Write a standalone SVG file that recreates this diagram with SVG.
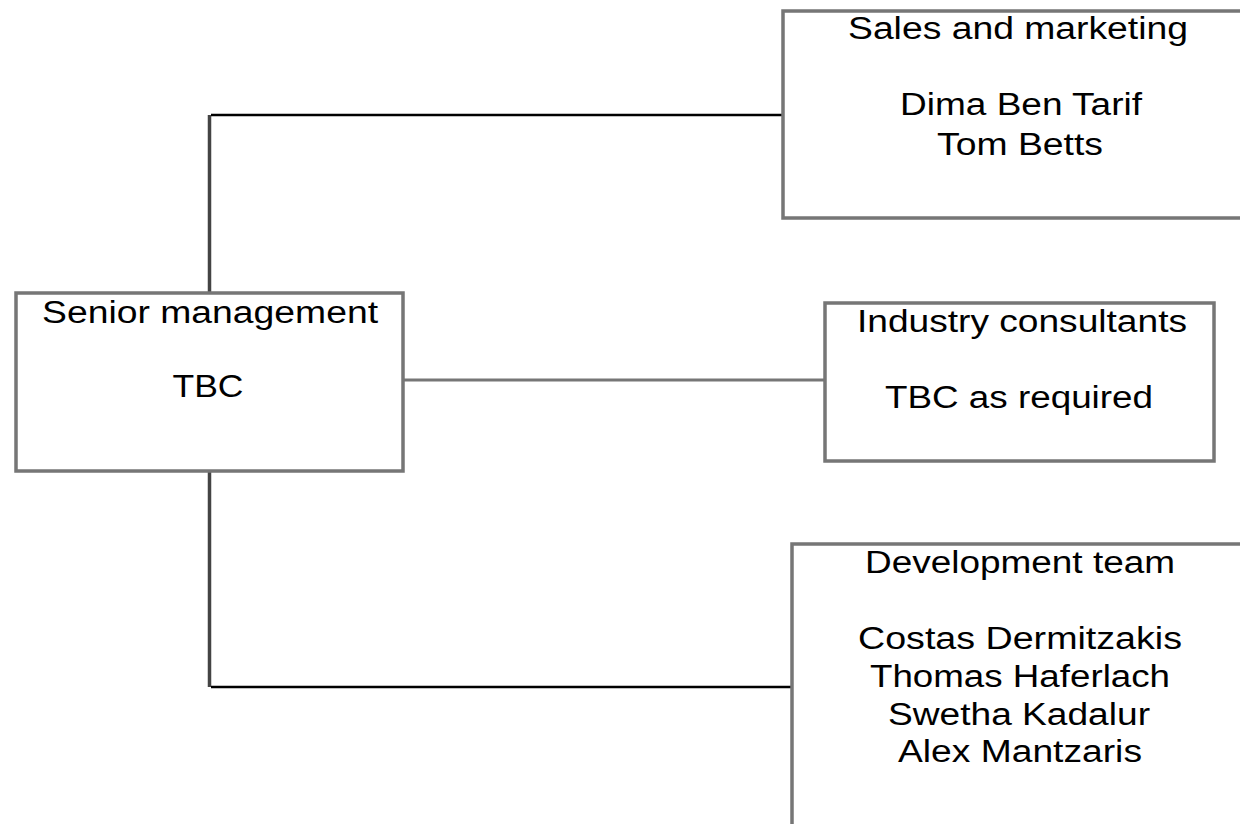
<svg xmlns="http://www.w3.org/2000/svg" width="1240" height="824" viewBox="0 0 1240 824">
<style>
.box{fill:#fff;stroke:#767676;stroke-width:3.5}
.t{font-family:"Liberation Sans",Arial,sans-serif;font-size:31px;fill:#000;text-anchor:middle}
.c{fill:none;stroke:#000;stroke-width:2.5}
.cv{fill:none;stroke:#444;stroke-width:3.5}
.cg{fill:none;stroke:#767676;stroke-width:3}
</style>
<rect width="1240" height="824" fill="#fff"/>
<g id="connectors">
<line class="cv" x1="209.5" y1="293" x2="209.5" y2="115"/>
<line class="c" x1="211" y1="115" x2="783" y2="115"/>
<line class="cg" x1="403" y1="380" x2="825" y2="380"/>
<line class="cv" x1="209.5" y1="471" x2="209.5" y2="687"/>
<line class="c" x1="211" y1="687" x2="792" y2="687"/>
</g>
<g id="sales">
<rect class="box" x="783" y="11" width="500" height="207"/>
<text class="t" x="1018" y="39" textLength="340" lengthAdjust="spacingAndGlyphs">Sales and marketing</text>
<text class="t" x="1021" y="115" textLength="242" lengthAdjust="spacingAndGlyphs">Dima Ben Tarif</text>
<text class="t" x="1020" y="155" textLength="166" lengthAdjust="spacingAndGlyphs">Tom Betts</text>
</g>
<g id="senior">
<rect class="box" x="16" y="293" width="387" height="178"/>
<text class="t" x="210" y="323" textLength="336" lengthAdjust="spacingAndGlyphs">Senior management</text>
<text class="t" x="208" y="397" textLength="71" lengthAdjust="spacingAndGlyphs">TBC</text>
</g>
<g id="industry">
<rect class="box" x="825" y="303" width="389" height="158"/>
<text class="t" x="1022" y="332" textLength="330" lengthAdjust="spacingAndGlyphs">Industry consultants</text>
<text class="t" x="1019" y="408" textLength="268" lengthAdjust="spacingAndGlyphs">TBC as required</text>
</g>
<g id="development">
<rect class="box" x="792" y="544" width="500" height="400"/>
<text class="t" x="1020" y="573" textLength="310" lengthAdjust="spacingAndGlyphs">Development team</text>
<text class="t" x="1020" y="649" textLength="324" lengthAdjust="spacingAndGlyphs">Costas Dermitzakis</text>
<text class="t" x="1020" y="687" textLength="300" lengthAdjust="spacingAndGlyphs">Thomas Haferlach</text>
<text class="t" x="1019" y="725" textLength="262" lengthAdjust="spacingAndGlyphs">Swetha Kadalur</text>
<text class="t" x="1020" y="762" textLength="244" lengthAdjust="spacingAndGlyphs">Alex Mantzaris</text>
</g>
</svg>
